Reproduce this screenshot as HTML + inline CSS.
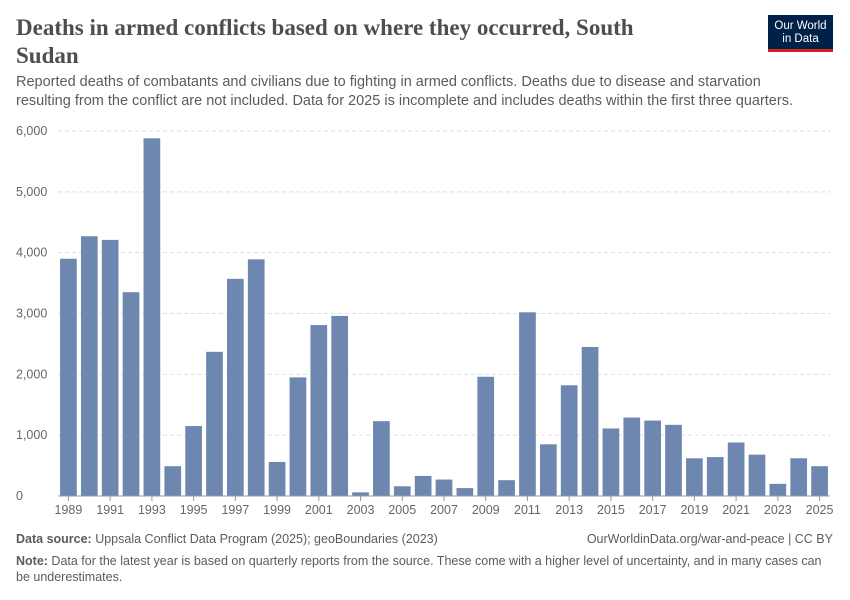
<!DOCTYPE html>
<html><head><meta charset="utf-8">
<style>
body{margin:0;width:850px;height:600px;background:#fff;font-family:"Liberation Sans",sans-serif;position:relative;overflow:hidden}
.t{position:absolute}
</style></head><body>
<div class="t" style="left:16px;top:14px;width:625px;font-family:'Liberation Serif',serif;font-size:23px;line-height:28px;color:#4e4e4e;font-weight:bold">Deaths in armed conflicts based on where they occurred, South Sudan</div>
<div class="t" style="left:768px;top:15px;width:65px;height:37px;background:#002147;border-bottom:3px solid #ce261e;box-sizing:border-box;color:#fff;font-size:11.5px;line-height:13px;text-align:center;padding-top:5px">Our World<br>in Data</div>
<div class="t" style="left:16px;top:73px;width:795px;font-size:14.5px;line-height:19px;color:#5b5b5b">Reported deaths of combatants and civilians due to fighting in armed conflicts. Deaths due to disease and starvation resulting from the conflict are not included. Data for 2025 is incomplete and includes deaths within the first three quarters.</div>
<svg class="t" style="left:0;top:0" width="850" height="600" id="chart"></svg>
<div class="t" style="left:16px;top:532px;font-size:12.5px;color:#5b5b5b"><b>Data source:</b> Uppsala Conflict Data Program (2025); geoBoundaries (2023)</div>
<div class="t" style="right:17px;top:532px;font-size:12.5px;color:#5b5b5b">OurWorldinData.org/war-and-peace | CC BY</div>
<div class="t" style="left:16px;top:553px;width:810px;font-size:12.5px;line-height:16px;color:#5b5b5b"><b>Note:</b> Data for the latest year is based on quarterly reports from the source. These come with a higher level of uncertainty, and in many cases can be underestimates.</div>
<script>
const years=[1989,1990,1991,1992,1993,1994,1995,1996,1997,1998,1999,2000,2001,2002,2003,2004,2005,2006,2007,2008,2009,2010,2011,2012,2013,2014,2015,2016,2017,2018,2019,2020,2021,2022,2023,2024,2025];
const deaths=[3900,4270,4210,3350,5880,490,1150,2370,3570,3890,560,1950,2810,2960,60,1230,160,330,270,130,1960,260,3020,850,1820,2450,1110,1290,1240,1170,620,640,880,680,200,620,490];
const yTicks=[0,1000,2000,3000,4000,5000,6000];
const NS="http://www.w3.org/2000/svg";
const svg=document.getElementById('chart');
const x0=58,x1=830,yb=496,yt=131,yMax=6000;
const step=(x1-x0)/years.length;
const bw=step*0.8;
const yS=v=>yb-(v/yMax)*(yb-yt);
const xS=i=>x0+step*i+(step-bw)/2;
function mk(t,a){const e=document.createElementNS(NS,t);for(const k in a)e.setAttribute(k,a[k]);svg.appendChild(e);return e;}
yTicks.forEach(v=>{
  const y=yS(v);
  if(v>0){const l=mk('line',{x1:x0,x2:x1,y1:y,y2:y,stroke:'#ddd','stroke-dasharray':'4,3'});
  
  }
  const t=mk('text',{x:16,y:y+4,'font-size':'12.5','fill':'#666','font-family':'Liberation Sans'});
  t.textContent=v.toLocaleString('en-US');
  
  
});
deaths.forEach((v,i)=>{
  const r=mk('rect',{x:xS(i),y:yS(v),width:bw,height:yb-yS(v),fill:'#6d87b0'});
  
  
});
const ax=mk('line',{x1:x0,x2:x1,y1:yb,y2:yb,stroke:'#999'});


years.forEach((yr,i)=>{
  if(i%2)return;
  const cx=xS(i)+bw/2;
  const tk=mk('line',{x1:cx,x2:cx,y1:yb,y2:yb+5,stroke:'#999'});
  
  
  const t=mk('text',{x:cx,y:yb+18,'font-size':'12.5','fill':'#666','text-anchor':'middle','font-family':'Liberation Sans'});
  t.textContent=yr;
  
  
});
</script>
</body></html>
